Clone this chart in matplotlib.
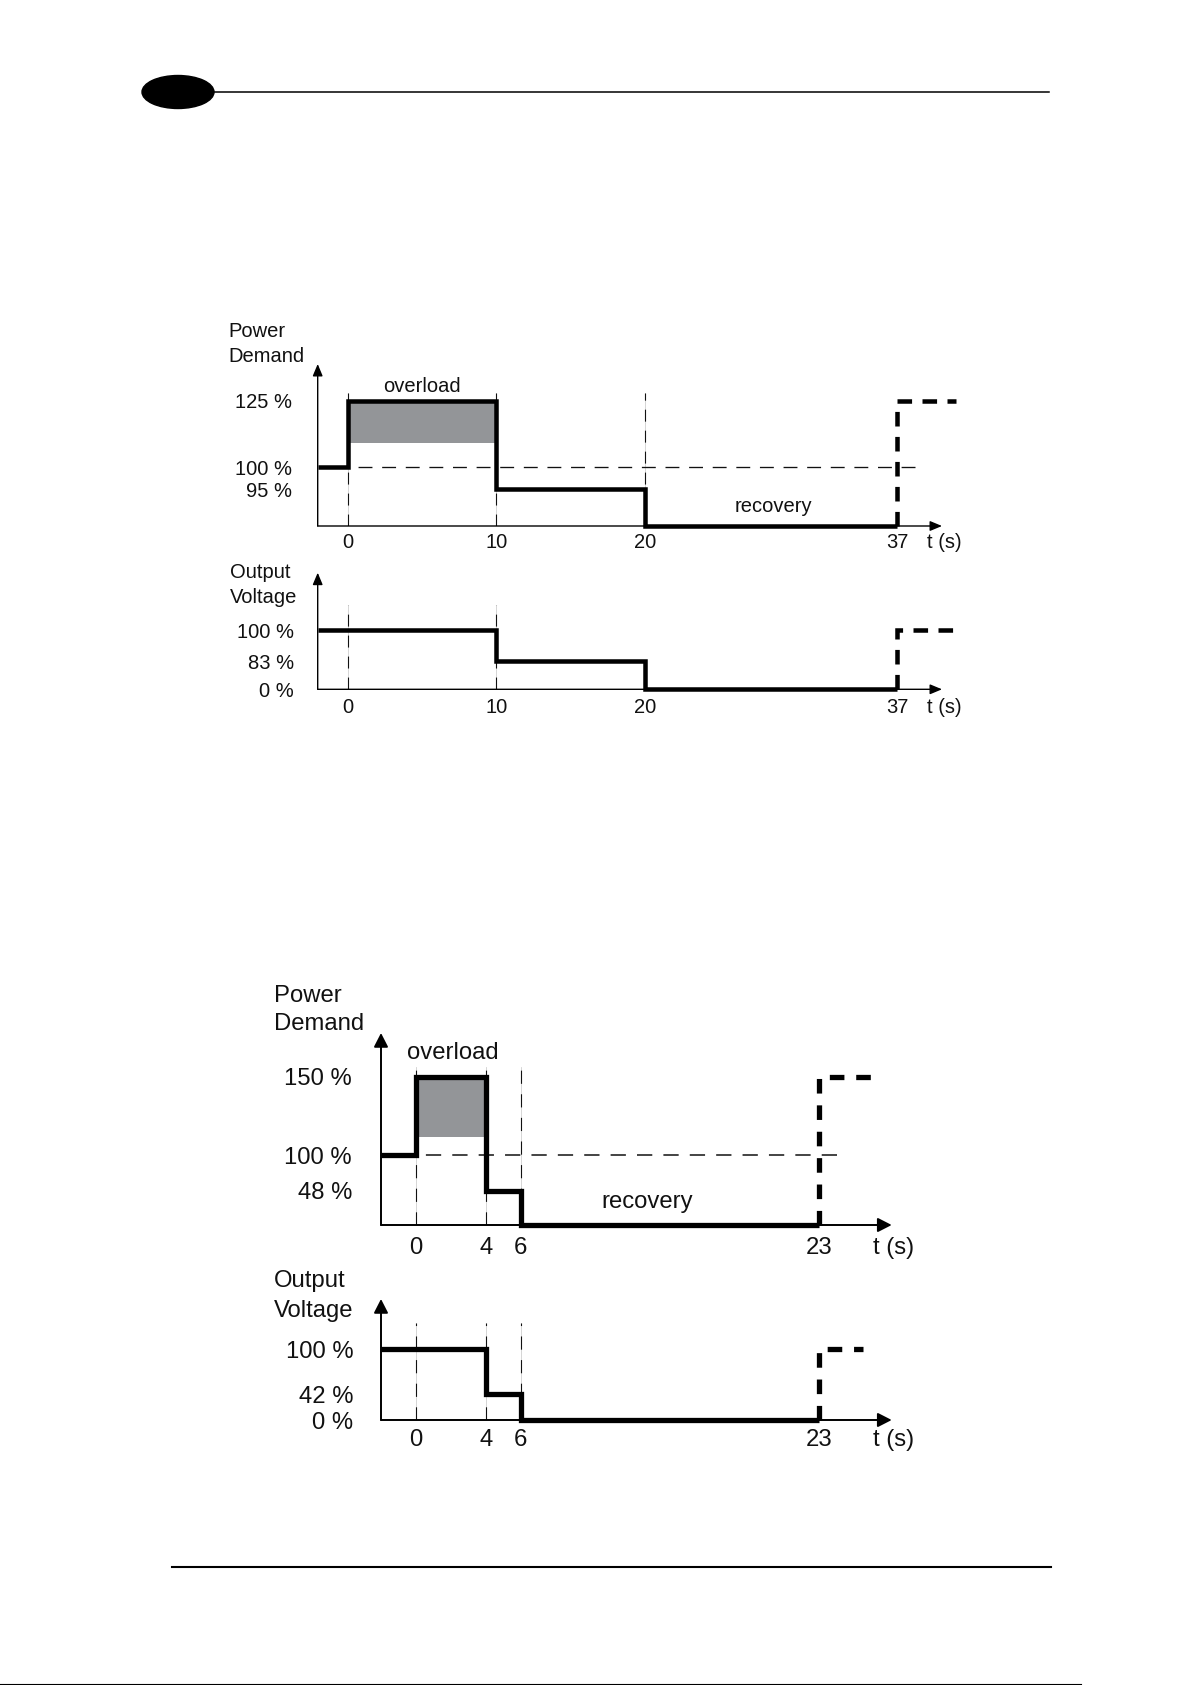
import numpy as np
import matplotlib
matplotlib.use('Agg')
import matplotlib.pyplot as plt
from matplotlib.patches import Ellipse

plt.rcParams['font.family'] = ['Liberation Sans', 'DejaVu Sans']
plt.rcParams['lines.scale_dashes'] = False

W, H, DPI = 1192, 1685, 100

# ---------------- data ----------------
# Chart 1 : 125 % overload
c1_times = [0, 10, 20, 37]                 # breakpoints (s)
c1_demand = [100, 125, 95, 0, 125]         # % before 0, 0-10, 10-20, 20-37, after 37
c1_voltage = [100, 100, 83, 0, 100]
c1_overload_floor = 109
c1_demand_ticks = [125, 100, 95]
c1_voltage_ticks = [100, 83, 0]
c1_demand_guides = [0, 10, 20]
c1_voltage_guides = [0, 10]
c1_ref_level = 100
c1_ref_end = 38.2
c1_restart_end = 41

# Chart 2 : 150 % overload
c2_times = [0, 4, 6, 23]
c2_demand = [100, 150, 48, 0, 150]
c2_voltage = [100, 100, 42, 0, 100]
c2_overload_floor = 111.5
c2_demand_ticks = [150, 100, 48]
c2_voltage_ticks = [100, 42, 0]
c2_demand_guides = [0, 4, 6]
c2_voltage_guides = [0, 4, 6]
c2_ref_level = 100
c2_ref_end = 24
c2_demand_restart_end = 26
c2_voltage_restart_end = 25.5

GRAY = '#939598'
INK = '#111111'


def piecewise(x, xp, fp):
    x = np.asarray(x, dtype=float)
    xp = np.asarray(xp, float)
    fp = np.asarray(fp, float)
    y = np.interp(x, xp, fp)
    s_lo = (fp[1] - fp[0]) / (xp[1] - xp[0])
    s_hi = (fp[-1] - fp[-2]) / (xp[-1] - xp[-2])
    y = np.where(x < xp[0], fp[0] + (x - xp[0]) * s_lo, y)
    y = np.where(x > xp[-1], fp[-1] + (x - xp[-1]) * s_hi, y)
    return y


def panel(fig, xl, yl, times, levels, ticks, guides, guide_frac, restart_end,
          st, ylabel, ylabel_dx, ylabel_dys, xpad, ypad,
          ref=None, shade=None, notes=()):
    left, right = xl['left'], xl['right']
    bottom, top = yl['axis'], yl['tip']
    ax = fig.add_axes([left / W, 1 - bottom / H, (right - left) / W, (bottom - top) / H])
    xmin = (left - xl['t0']) / xl['pps']
    xmax = (right - xl['t0']) / xl['pps']
    heights = [bottom - p for p in yl['anchor_px']]
    ap = yl['anchor_p']
    ax.set_yscale('function', functions=(lambda p: piecewise(p, ap, heights),
                                         lambda h: piecewise(h, heights, ap)))
    ymax = float(piecewise(bottom - top, heights, ap))

    fs, lw, lwa = st['fs'], st['lw'], st['lwa']
    # shaded overload
    if shade is not None:
        ax.fill_between([times[0], times[1]], shade, levels[1], color=GRAY, lw=0, zorder=2)
    # reference level (drawn from its right end so the pattern ends with a dash)
    if ref is not None:
        ax.plot([ref[1], times[0]], [ref[0], ref[0]], color=INK, lw=st['lwr'],
                dashes=st['dref'], zorder=3, clip_on=False)
    # guides
    for g in guides:
        ax.axvline(g, 0, guide_frac, color='#cfcfcf', lw=0.6, zorder=1)
        ax.axvline(g, 0, guide_frac, color=INK, lw=0.8, dashes=st['dguide'], zorder=1)
    # main step line
    sp = ax.stairs(levels[:-1], [xmin] + list(times), baseline=None, fill=False,
                   edgecolor='black', linewidth=lw, zorder=5, clip_on=False)
    sp.set_joinstyle('miter')
    sp.set_capstyle('butt')
    # restart (dashed)
    ax.plot([times[-1], times[-1], restart_end], [levels[-2], levels[-1], levels[-1]],
            color='black', lw=lw, dashes=st['dthick'], dash_capstyle='butt',
            dash_joinstyle='miter', zorder=5, clip_on=False)
    # axes with arrows
    ap_props = dict(arrowstyle=f"-|>,head_length={st['hl']},head_width={st['hw']}",
                    mutation_scale=1, lw=lwa, color='black', shrinkA=0, shrinkB=0)
    ax.annotate('', xy=(xmax, 0), xytext=(xmin, 0), arrowprops=ap_props, annotation_clip=False)
    ax.annotate('', xy=(xmin, ymax), xytext=(xmin, 0), arrowprops=ap_props, annotation_clip=False)

    ax.set_xlim(xmin, xmax)
    ax.set_ylim(0, ymax)
    for s in ax.spines.values():
        s.set_visible(False)
    ax.patch.set_visible(False)
    ax.set_xticks(times)
    ax.set_xticklabels([str(t) for t in times])
    ax.set_yticks(ticks)
    ax.set_yticklabels([f'{v} %' for v in ticks])
    ax.tick_params(length=0, labelsize=fs, labelcolor=INK)
    ax.tick_params(axis='x', pad=xpad)
    ax.tick_params(axis='y', pad=ypad)
    ax.minorticks_off()

    ax.annotate('t (s)', xy=(xmax, 0), xytext=(st['tdx'], -xpad), textcoords='offset points',
                ha='left', va='top', fontsize=fs, color=INK, annotation_clip=False)
    for line, dy in zip(ylabel, ylabel_dys):
        ax.annotate(line, xy=(xmin, ymax), xytext=(ylabel_dx, dy), textcoords='offset points',
                    ha='left', va='baseline', fontsize=fs, color=INK, annotation_clip=False)
    for txt, tx, ty, dy in notes:
        ax.annotate(txt, xy=(tx, ty), xytext=(0, dy), textcoords='offset points',
                    ha='center', va='baseline', fontsize=fs, color=INK, annotation_clip=False)
    return ax


fig = plt.figure(figsize=(W / DPI, H / DPI), dpi=DPI)

# page decoration
deco = fig.add_axes([0, 0, 1, 1])
deco.set_xlim(0, W)
deco.set_ylim(H, 0)
deco.axis('off')
deco.add_patch(Ellipse((178, 92), 72, 33, color='black'))
deco.plot([212, 1049], [92, 92], color='black', lw=1.1)
deco.plot([172, 1051], [1567, 1567], color='black', lw=1.5)
deco.plot([0, 1081], [1684.5, 1684.5], color='black', lw=0.8)

# ---------- layout ----------
X1 = dict(left=317.7, right=942, t0=348, pps=14.84)
X2 = dict(left=381, right=891.7, t0=415.5, pps=17.55)
Y1a = dict(axis=526, tip=364, anchor_p=[0, 95, 100, 125], anchor_px=[526, 489, 467, 400.7])
Y1b = dict(axis=689.3, tip=572.7, anchor_p=[0, 83, 100], anchor_px=[689.3, 661, 630])
Y2a = dict(axis=1225, tip=1033, anchor_p=[0, 48, 100, 150], anchor_px=[1225, 1190.7, 1155, 1076.7])
Y2b = dict(axis=1420, tip=1299, anchor_p=[0, 42, 100], anchor_px=[1420, 1394, 1349])

S1 = dict(fs=14.5, lw=3.25, lwa=1.0, lwr=0.95, hl=7.2, hw=3.0, tdx=-10.8,
          dref=(10, 7), dguide=(8.6, 6.5), dthick=(10.5, 7.5))
S2 = dict(fs=17.2, lw=3.8, lwa=1.4, lwr=1.1, hl=8.4, hw=4.3, tdx=-13.7,
          dref=(11, 8), dguide=(9.5, 7.5), dthick=(10.5, 8.5))

panel(fig, X1, Y1a, c1_times, c1_demand, c1_demand_ticks, c1_demand_guides, 0.82,
      c1_restart_end, S1, ['Power', 'Demand'], -64.4, [19.7, 1.7], 5, 18.5,
      ref=(c1_ref_level, c1_ref_end), shade=c1_overload_floor,
      notes=[('overload', 5, c1_demand[1], 6.3), ('recovery', 28.7, 0, 10)])
panel(fig, X1, Y1b, c1_times, c1_voltage, c1_voltage_ticks, c1_voltage_guides, 0.723,
      c1_restart_end, S1, ['Output', 'Voltage'], -63.1, [-3.8, -21.8], 6, 17)
panel(fig, X2, Y2a, c2_times, c2_demand, c2_demand_ticks, c2_demand_guides, 0.823,
      c2_demand_restart_end, S2, ['Power', 'Demand'], -77, [22.3, 2.2], 8.3, 20.9,
      ref=(c2_ref_level, c2_ref_end), shade=c2_overload_floor,
      notes=[('overload', 2.1, c2_demand[1], 12.7), ('recovery', 13.2, 0, 12.2)])
panel(fig, X2, Y2b, c2_times, c2_voltage, c2_voltage_ticks, c2_voltage_guides, 0.80,
      c2_voltage_restart_end, S2, ['Output', 'Voltage'], -77, [8.6, -13], 6.8, 20)

fig.savefig('out.png', dpi=DPI)
